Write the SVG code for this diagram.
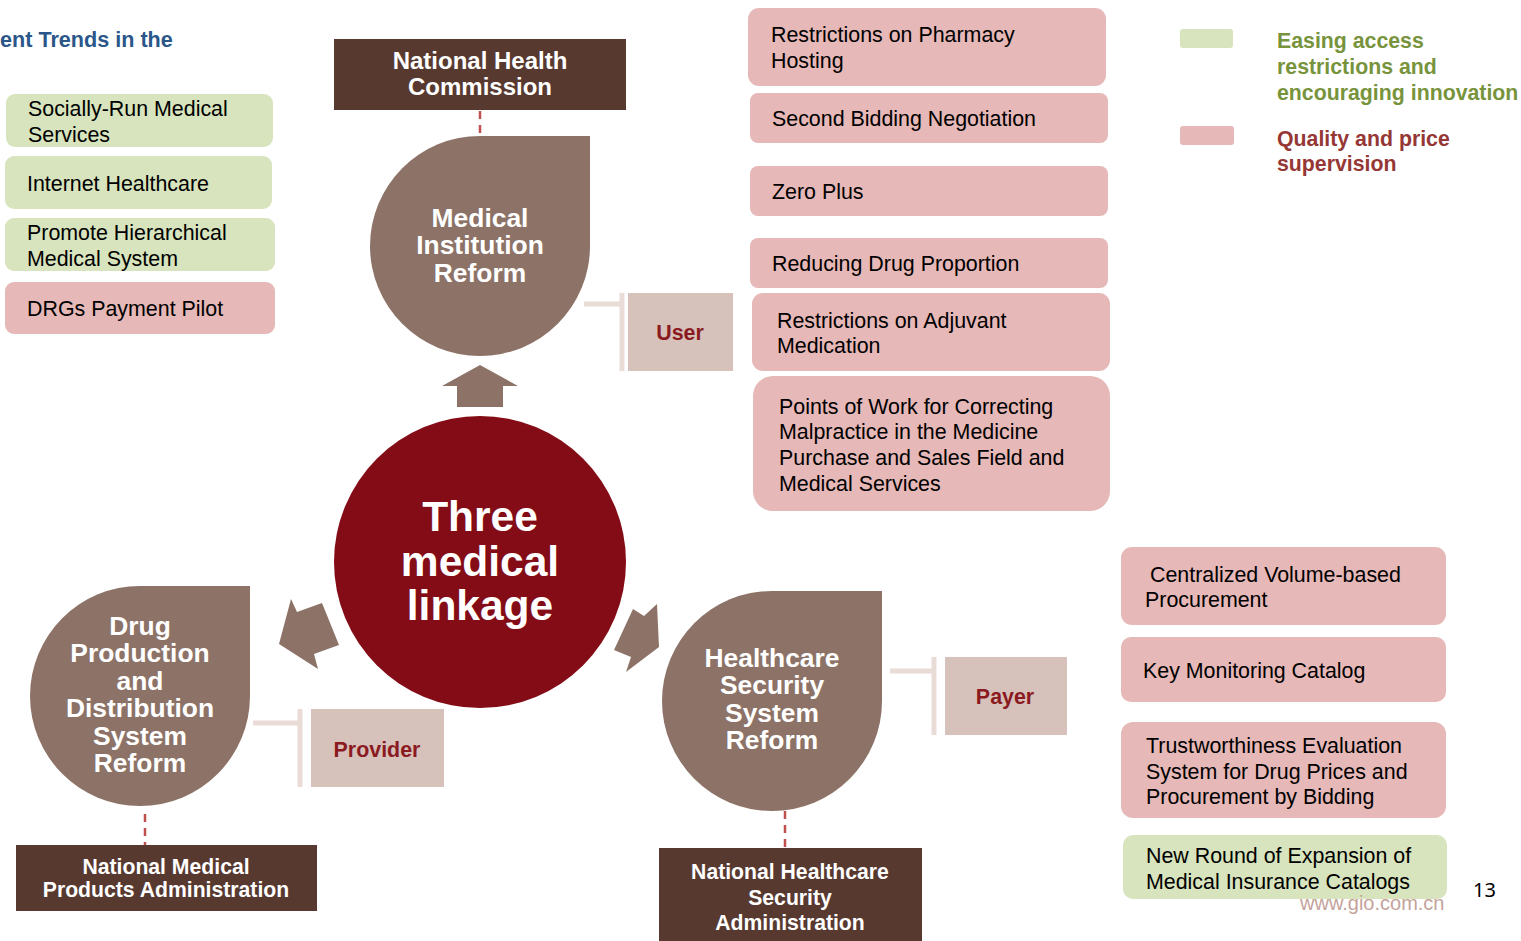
<svg xmlns="http://www.w3.org/2000/svg" width="1521" height="941" viewBox="0 0 1521 941">
<style>
.g{fill:#d7e4bd}
.p{fill:#e6b8b7}
.t{font-family:"Liberation Sans",Arial,sans-serif;font-size:21.4px;fill:#000}
.drop{fill:#8d7367}
.dt{font-family:"Liberation Sans",Arial,sans-serif;font-size:26.4px;font-weight:bold;fill:#fff;text-anchor:middle}
.ag{fill:#583930}
.at{font-family:"Liberation Sans",Arial,sans-serif;font-weight:bold;fill:#fff;text-anchor:middle}
.lb{fill:#d6c1bb}
.lt{font-family:"Liberation Sans",Arial,sans-serif;font-size:21.4px;font-weight:bold;fill:#8b1a1f;text-anchor:middle}
.br{stroke:#e9dcd7;stroke-width:5;fill:none}
.dash{stroke:#c0504d;stroke-width:2.5;stroke-dasharray:8,6;fill:none}
.arw{fill:#8d7367}
</style>
<rect width="1521" height="941" fill="#fff"/>
<text x="0" y="47" font-family="Liberation Sans,Arial,sans-serif" font-size="21.6" font-weight="bold" fill="#2a5689">ent Trends in the</text>

<g id="connectors">
<line class="dash" x1="480" y1="111" x2="480" y2="136"/>
<line class="dash" x1="145" y1="814" x2="145" y2="845"/>
<line class="dash" x1="785" y1="811" x2="785" y2="848"/>
<path class="br" d="M584,304 L620,304 M622,293 L622,371"/>
<path class="br" d="M253,723 L298,723 M300,709 L300,787"/>
<path class="br" d="M890,671 L932,671 M934,657 L934,735"/>
<polygon class="arw" points="480,365 518,386 503,386 503,407 457,407 457,386 442,386"/>
<polygon class="arw" points="279,644 291,599 297,612 322,603 339,645 314,654 318,669"/>
<polygon class="arw" points="659,647 657,604 644,616 633,609 614,650 631,657 626,672"/>
</g>

<g id="center">
<circle cx="480" cy="562" r="146" fill="#830c16"/>
<text x="480" y="531" font-family="Liberation Sans,Arial,sans-serif" font-size="42.5" font-weight="bold" fill="#fff" text-anchor="middle">Three</text>
<text x="480" y="576" font-family="Liberation Sans,Arial,sans-serif" font-size="42.5" font-weight="bold" fill="#fff" text-anchor="middle">medical</text>
<text x="480" y="620" font-family="Liberation Sans,Arial,sans-serif" font-size="42.5" font-weight="bold" fill="#fff" text-anchor="middle">linkage</text>
</g>

<g id="medical-institution-reform">
<path class="drop" d="M480,136 L590,136 L590,246 A110,110 0 1 1 480,136 Z"/>
<text class="dt" x="480" y="227">Medical</text>
<text class="dt" x="480" y="254">Institution</text>
<text class="dt" x="480" y="282">Reform</text>
</g>
<g id="drug-reform">
<path class="drop" d="M140,586 L250,586 L250,696 A110,110 0 1 1 140,586 Z"/>
<text class="dt" x="140" y="635">Drug</text>
<text class="dt" x="140" y="662">Production</text>
<text class="dt" x="140" y="690">and</text>
<text class="dt" x="140" y="717">Distribution</text>
<text class="dt" x="140" y="745">System</text>
<text class="dt" x="140" y="772">Reform</text>
</g>
<g id="healthcare-reform">
<path class="drop" d="M772,591 L882,591 L882,701 A110,110 0 1 1 772,591 Z"/>
<text class="dt" x="772" y="667">Healthcare</text>
<text class="dt" x="772" y="694">Security</text>
<text class="dt" x="772" y="722">System</text>
<text class="dt" x="772" y="749">Reform</text>
</g>

<g id="nhc">
<rect class="ag" x="334" y="39" width="292" height="71"/>
<text class="at" x="480" y="69" font-size="24">National Health</text>
<text class="at" x="480" y="95" font-size="24">Commission</text>
</g>
<g id="nmpa">
<rect class="ag" x="16" y="845" width="301" height="66"/>
<text class="at" x="166" y="874" font-size="21.2">National Medical</text>
<text class="at" x="166" y="897" font-size="21.2">Products Administration</text>
</g>
<g id="nhsa">
<rect class="ag" x="659" y="848" width="263" height="93"/>
<text class="at" x="790" y="879" font-size="21.2">National Healthcare</text>
<text class="at" x="790" y="905" font-size="21.2">Security</text>
<text class="at" x="790" y="930" font-size="21.2">Administration</text>
</g>

<g id="user">
<rect class="lb" x="628" y="293" width="105" height="78"/>
<text class="lt" x="680" y="340">User</text>
</g>
<g id="provider">
<rect class="lb" x="311" y="709" width="133" height="78"/>
<text class="lt" x="377" y="757">Provider</text>
</g>
<g id="payer">
<rect class="lb" x="945" y="657" width="122" height="78"/>
<text class="lt" x="1005" y="704">Payer</text>
</g>

<g id="left-1"><rect class="g" x="6" y="94" width="267" height="53" rx="9"/><text class="t" x="28" y="116">Socially-Run Medical</text><text class="t" x="28" y="142">Services</text></g>
<g id="left-2"><rect class="g" x="5" y="156" width="267" height="53" rx="9"/><text class="t" x="27" y="191">Internet Healthcare</text></g>
<g id="left-3"><rect class="g" x="5" y="218" width="270" height="53" rx="9"/><text class="t" x="27" y="240">Promote Hierarchical</text><text class="t" x="27" y="266">Medical System</text></g>
<g id="left-4"><rect class="p" x="5" y="282" width="270" height="52" rx="9"/><text class="t" x="27" y="316">DRGs Payment Pilot</text></g>

<g id="r-1"><rect class="p" x="748" y="8" width="358" height="78" rx="11"/><text class="t" x="771" y="42">Restrictions on Pharmacy</text><text class="t" x="771" y="68">Hosting</text></g>
<g id="r-2"><rect class="p" x="750" y="93" width="358" height="50" rx="8"/><text class="t" x="772" y="126">Second Bidding Negotiation</text></g>
<g id="r-3"><rect class="p" x="750" y="166" width="358" height="50" rx="8"/><text class="t" x="772" y="199">Zero Plus</text></g>
<g id="r-4"><rect class="p" x="750" y="238" width="358" height="50" rx="8"/><text class="t" x="772" y="271">Reducing Drug Proportion</text></g>
<g id="r-5"><rect class="p" x="752" y="293" width="358" height="78" rx="11"/><text class="t" x="777" y="328">Restrictions on Adjuvant</text><text class="t" x="777" y="353">Medication</text></g>
<g id="r-6"><rect class="p" x="753" y="376" width="357" height="135" rx="20"/><text class="t" x="779" y="414">Points of Work for Correcting</text><text class="t" x="779" y="439">Malpractice in the Medicine</text><text class="t" x="779" y="465">Purchase and Sales Field and</text><text class="t" x="779" y="491">Medical Services</text></g>

<g id="rb-1"><rect class="p" x="1121" y="547" width="325" height="78" rx="11"/><text class="t" x="1150" y="582">Centralized Volume-based</text><text class="t" x="1145" y="607">Procurement</text></g>
<g id="rb-2"><rect class="p" x="1121" y="637" width="325" height="65" rx="10"/><text class="t" x="1143" y="678">Key Monitoring Catalog</text></g>
<g id="rb-3"><rect class="p" x="1121" y="722" width="325" height="96" rx="12"/><text class="t" x="1146" y="753">Trustworthiness Evaluation</text><text class="t" x="1146" y="779">System for Drug Prices and</text><text class="t" x="1146" y="804">Procurement by Bidding</text></g>
<g id="rb-4"><rect class="g" x="1123" y="835" width="324" height="64" rx="10"/><text class="t" x="1146" y="863">New Round of Expansion of</text><text class="t" x="1146" y="889">Medical Insurance Catalogs</text></g>

<g id="legend">
<rect class="g" x="1180" y="29" width="53" height="19" rx="3"/>
<rect class="p" x="1180" y="126" width="54" height="19" rx="3"/>
<g font-family="Liberation Sans,Arial,sans-serif" font-size="21.3" font-weight="bold">
<text x="1277" y="48" fill="#77933c">Easing access</text>
<text x="1277" y="74" fill="#77933c">restrictions and</text>
<text x="1277" y="100" fill="#77933c">encouraging innovation</text>
<text x="1277" y="146" fill="#953735">Quality and price</text>
<text x="1277" y="171" fill="#953735">supervision</text>
</g>
</g>
<text x="1300" y="910" font-family="Liberation Sans,Arial,sans-serif" font-size="20" fill="#c4a39c">www.gio.com.cn</text>
<text x="1473" y="897" font-family="Noto Sans,sans-serif" font-size="20" fill="#000">13</text>
</svg>
